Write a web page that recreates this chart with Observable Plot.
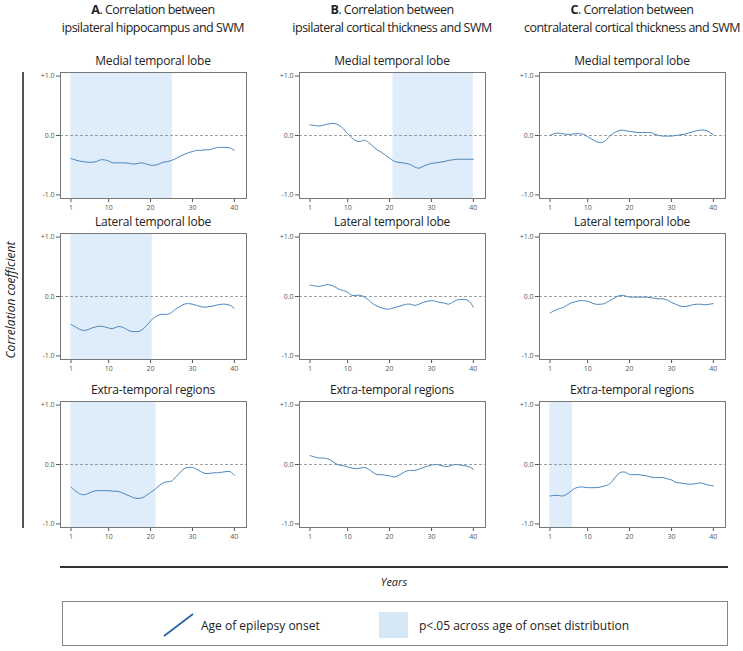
<!DOCTYPE html>
<html><head><meta charset="utf-8">
<script src="https://cdn.jsdelivr.net/npm/d3@7"></script>
<script src="https://cdn.jsdelivr.net/npm/@observablehq/plot@0.6"></script>
<style>
body{margin:0;background:#fff;font-family:"Open Sans",sans-serif;}
#root{position:relative;width:743px;height:651px;overflow:hidden;background:#fff;}
.hdr{position:absolute;text-align:center;font-size:12.5px;line-height:18px;color:#222;width:260px;white-space:nowrap;letter-spacing:-0.5px;}
.ttl{position:absolute;text-align:center;font-size:12px;line-height:14px;color:#222;width:186px;white-space:nowrap;letter-spacing:-0.2px;}
.pl{position:absolute;}
</style></head><body><div id="root"></div>
<script>
// ---- data ----
const years = [1,2,3,4,5,6,7,8,9,10,11,12,13,14,15,16,17,18,19,20,21,22,23,24,25,26,27,28,29,30,31,32,33,34,35,36,37,38,39,40];
const xTicks = [1, 10, 20, 30, 40];
const yTicks = [-1, 0, 1];
const yTickLabels = ["-1.0", "0.0", "+1.0"];

const columnLetters = ["A", "B", "C"];
const columnLine1 = ["Correlation between", "Correlation between", "Correlation between"];
const columnLine2 = ["ipsilateral hippocampus and SWM", "ipsilateral cortical thickness and SWM", "contralateral cortical thickness and SWM"];
const rowTitles = ["Medial temporal lobe", "Lateral temporal lobe", "Extra-temporal regions"];

// correlation coefficient by age of onset (years 1..40)
const medialA  = [-0.39,-0.41,-0.43,-0.44,-0.45,-0.45,-0.44,-0.41,-0.41,-0.43,-0.46,-0.46,-0.46,-0.46,-0.47,-0.48,-0.47,-0.46,-0.48,-0.50,-0.50,-0.48,-0.45,-0.44,-0.42,-0.39,-0.35,-0.32,-0.29,-0.27,-0.25,-0.25,-0.24,-0.24,-0.22,-0.20,-0.20,-0.20,-0.21,-0.25];
const lateralA = [-0.47,-0.51,-0.55,-0.57,-0.56,-0.53,-0.51,-0.50,-0.51,-0.53,-0.54,-0.51,-0.51,-0.54,-0.58,-0.59,-0.59,-0.56,-0.49,-0.41,-0.35,-0.31,-0.30,-0.30,-0.27,-0.21,-0.17,-0.13,-0.12,-0.13,-0.15,-0.17,-0.18,-0.17,-0.16,-0.14,-0.13,-0.13,-0.15,-0.20];
const extraA   = [-0.38,-0.44,-0.49,-0.51,-0.49,-0.46,-0.44,-0.44,-0.44,-0.44,-0.45,-0.45,-0.47,-0.50,-0.53,-0.56,-0.57,-0.56,-0.52,-0.47,-0.42,-0.36,-0.31,-0.29,-0.28,-0.21,-0.14,-0.07,-0.05,-0.05,-0.08,-0.12,-0.15,-0.15,-0.14,-0.14,-0.13,-0.12,-0.12,-0.18];
const medialB  = [0.18,0.17,0.16,0.17,0.19,0.20,0.20,0.17,0.11,0.03,-0.04,-0.09,-0.10,-0.08,-0.12,-0.18,-0.24,-0.28,-0.33,-0.38,-0.43,-0.45,-0.46,-0.47,-0.49,-0.53,-0.55,-0.52,-0.49,-0.47,-0.46,-0.45,-0.44,-0.42,-0.41,-0.40,-0.40,-0.40,-0.40,-0.40];
const lateralB = [0.19,0.18,0.17,0.18,0.20,0.19,0.16,0.12,0.10,0.07,0.02,0.02,0.02,-0.01,-0.06,-0.12,-0.16,-0.19,-0.21,-0.21,-0.19,-0.17,-0.15,-0.13,-0.13,-0.15,-0.13,-0.10,-0.08,-0.07,-0.08,-0.10,-0.11,-0.13,-0.10,-0.06,-0.05,-0.05,-0.08,-0.18];
const extraB   = [0.15,0.13,0.11,0.11,0.10,0.07,0.02,-0.01,-0.02,-0.04,-0.06,-0.07,-0.06,-0.05,-0.08,-0.13,-0.17,-0.17,-0.18,-0.19,-0.21,-0.19,-0.15,-0.11,-0.10,-0.10,-0.08,-0.05,-0.03,-0.01,0.00,-0.01,-0.03,-0.03,-0.01,0.00,-0.01,-0.02,-0.04,-0.08];
const medialC  = [0.00,0.03,0.04,0.03,0.02,0.02,0.03,0.03,0.02,-0.02,-0.06,-0.10,-0.12,-0.10,-0.03,0.03,0.07,0.09,0.08,0.07,0.06,0.05,0.05,0.05,0.05,0.02,0.00,-0.01,-0.01,-0.01,0.00,0.01,0.02,0.04,0.06,0.08,0.09,0.09,0.06,0.01];
const lateralC = [-0.28,-0.24,-0.21,-0.19,-0.15,-0.11,-0.09,-0.07,-0.07,-0.08,-0.11,-0.13,-0.13,-0.12,-0.08,-0.04,0.00,0.02,0.01,-0.01,-0.01,-0.01,-0.01,-0.01,-0.02,-0.03,-0.04,-0.04,-0.06,-0.10,-0.13,-0.16,-0.17,-0.16,-0.14,-0.13,-0.13,-0.14,-0.13,-0.12];
const extraC   = [-0.53,-0.52,-0.52,-0.53,-0.50,-0.45,-0.40,-0.38,-0.38,-0.39,-0.39,-0.39,-0.38,-0.36,-0.34,-0.27,-0.18,-0.13,-0.13,-0.17,-0.17,-0.17,-0.18,-0.19,-0.21,-0.22,-0.22,-0.22,-0.24,-0.26,-0.30,-0.31,-0.32,-0.33,-0.33,-0.32,-0.31,-0.33,-0.35,-0.36];

// p<.05 ranges (age of onset, years); null = none
const sigMedial  = [[1, 25.2], [20.8, 40], null];
const sigLateral = [[1, 20.4], null, null];
const sigExtra   = [[1, 21.3], null, [1, 6.4]];

const series = [
  [medialA, medialB, medialC],
  [lateralA, lateralB, lateralC],
  [extraA, extraB, extraC]
];
const sig = [sigMedial, sigLateral, sigExtra];

// ---- layout ----
const root = document.getElementById("root");
const colLeft = [60, 299, 539];
const rowTop = [72, 233, 401];
const frameW = 186, frameH = 126;
const mL = 40, mR = 6, mT = 4, mB = 22;

function add(html, css) {
  const d = document.createElement("div");
  d.innerHTML = html;
  Object.assign(d.style, css);
  root.appendChild(d);
  return d;
}

// column headers
columnLetters.forEach((L, c) => {
  const cx = colLeft[c] + frameW / 2;
  const d = add(`<b>${L}</b>. ${columnLine1[c]}<br>${columnLine2[c]}`, {left: (cx - 130) + "px", top: "1px"});
  d.className = "hdr";
});

// panels
for (let r = 0; r < 3; r++) {
  for (let c = 0; c < 3; c++) {
    const t = add(rowTitles[r], {left: colLeft[c] + "px", top: (rowTop[r] - 18) + "px"});
    t.className = "ttl";
    const vals = series[r][c];
    const data = years.map((y, i) => ({year: y, r: vals[i]}));
    const s = sig[r][c];
    const chart = Plot.plot({
      width: mL + frameW + mR,
      height: mT + frameH + mB,
      marginLeft: mL, marginRight: mR, marginTop: mT, marginBottom: mB,
      style: {fontFamily: "Open Sans", fontSize: "7px", color: "#555", background: "transparent", overflow: "visible"},
      x: {domain: [-1.5, 42.9], ticks: xTicks, tickSize: 4, tickPadding: 3, label: null},
      y: {domain: [-1.06, 1.06], ticks: yTicks, tickFormat: d => yTickLabels[yTicks.indexOf(d)], tickSize: 4, tickPadding: 2, label: null},
      marks: [
        s ? Plot.rect([s], {x1: d => d[0], x2: d => d[1], fill: "#deedf9"}) : null,
        Plot.ruleY([0], {stroke: "#888", strokeDasharray: "3,2", strokeWidth: 0.8}),
        Plot.line(data, {x: "year", y: "r", stroke: "#4a86bd", strokeWidth: 1, curve: "catmull-rom"}),
        Plot.frame({stroke: "#777", strokeWidth: 1})
      ]
    });
    chart.classList.add("pl");
    chart.style.left = (colLeft[c] - mL) + "px";
    chart.style.top = (rowTop[r] - mT) + "px";
    chart.style.position = "absolute";
    root.appendChild(chart);
  }
}

// y-axis label + bracket line
add("", {position: "absolute", left: "22px", top: "72px", width: "1.5px", height: "456px", background: "#555"});
add("Correlation coefficient", {position: "absolute", left: "10px", top: "300px", transform: "translate(-50%,-50%) rotate(-90deg)", fontStyle: "italic", fontSize: "12px", color: "#222", whiteSpace: "nowrap"});

// x-axis label + line
add("", {position: "absolute", left: "60px", top: "566px", width: "668px", height: "1.5px", background: "#333"});
add("Years", {position: "absolute", left: "394px", top: "581px", transform: "translate(-50%,-50%)", fontStyle: "italic", fontSize: "11px", color: "#222"});

// legend
add(`<svg width="666" height="45" style="display:block">
  <line x1="101" y1="34" x2="130" y2="12" stroke="#1f63a6" stroke-width="1.6"/>
  <text x="138" y="28" font-family="Open Sans" font-size="12" fill="#222">Age of epilepsy onset</text>
  <rect x="316" y="10" width="29" height="26" fill="#d6e7f6"/>
  <text x="356" y="28" font-family="Open Sans" font-size="12" fill="#222">p&lt;.05 across age of onset distribution</text>
</svg>`, {position: "absolute", left: "62px", top: "601px", width: "666px", height: "45px", border: "1px solid #888", boxSizing: "border-box"});
</script>
</body></html>
